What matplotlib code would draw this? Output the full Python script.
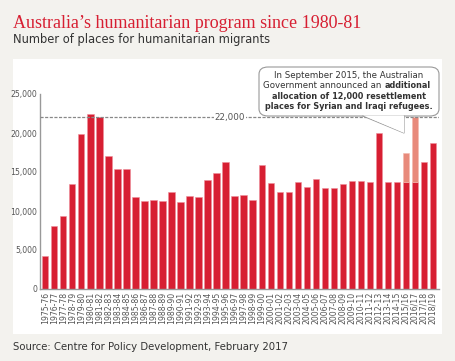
import matplotlib.pyplot as plt
from matplotlib.patches import FancyBboxPatch, Polygon, Rectangle
from matplotlib.lines import Line2D

W, H = 456, 361

years = ['1975-76', '1976-77', '1977-78', '1978-79', '1979-80', '1980-81',
         '1981-82', '1982-83', '1983-84', '1984-85', '1985-86', '1986-87',
         '1987-88', '1988-89', '1989-90', '1990-91', '1991-92', '1992-93',
         '1993-94', '1994-95', '1995-96', '1996-97', '1997-98', '1998-99',
         '1999-00', '2000-01', '2001-02', '2002-03', '2003-04', '2004-05',
         '2005-06', '2006-07', '2007-08', '2008-09', '2009-10', '2010-11',
         '2011-12', '2012-13', '2013-14', '2014-15', '2015/16', '2016/17',
         '2017/18', '2018/19']
places = [4200, 8100, 9300, 13500, 19900, 22500,
          22000, 17050, 15400, 15400, 11800, 11250,
          11400, 11300, 12400, 11150, 11900, 11850,
          14000, 14850, 16250, 11900, 12050, 11350,
          15850, 13650, 12400, 12450, 13750, 13100,
          14150, 13000, 13000, 13450, 13850, 13850,
          13700, 20000, 13750, 13750, 13750, 13750,
          16250, 18750]
# extra Syrian/Iraqi places on top of the regular program
extra_years = ['2015/16', '2016/17']
extra_places = [3750, 8250]
ceiling = 22000

red = '#d71f32'
salmon = '#e88a7b'
grey = '#555555'


def px(x, y):
    return x / W, 1 - y / H


fig = plt.figure(figsize=(W / 100, H / 100), dpi=100, facecolor='#f3f2ee')
fig.patches.append(Rectangle(px(13, 334), (442 - 13) / W, (334 - 59) / H,
                             transform=fig.transFigure, facecolor='white',
                             edgecolor='none', zorder=-5))

fig.text(*px(13, 23), 'Australia\u2019s humanitarian program since 1980-81',
         family='Liberation Serif', fontsize=13, color=red, va='center')
fig.text(*px(13, 40), 'Number of places for humanitarian migrants',
         fontsize=8.3, color='#333333', va='center')
fig.text(*px(13, 347), 'Source: Centre for Policy Development, February 2017',
         fontsize=7.3, color='#333333', va='center')

x0, y0 = px(40, 289)
ax = fig.add_axes([x0, y0, (439 - 40) / W, (289 - 94) / H])
ax.patch.set_alpha(0)

pos = range(len(years))
ax.bar(pos, places, width=0.68, color=red, edgecolor='#ee8f9a', linewidth=0.4,
       zorder=2)
ex_pos = [years.index(y) for y in extra_years]
ax.bar(ex_pos, extra_places, width=0.68,
       bottom=[places[i] for i in ex_pos], color=salmon, edgecolor='#f4b8ae',
       linewidth=0.4, zorder=2)

ax.axhline(ceiling, color='#888888', lw=0.9, ls=(0, (2.5, 1.2)), zorder=3)
ax.text(20.5, ceiling, '22,000', fontsize=6.3, color=grey, ha='center',
        va='center', zorder=4,
        bbox=dict(facecolor='white', edgecolor='none', pad=0.6))

ax.set_xlim(-0.6, 43.7)
ax.set_ylim(0, 25000)
ax.set_yticks([0, 5000, 10000, 15000, 20000, 25000])
ax.set_yticklabels(['0', '5,000', '10,000', '15,000', '20,000', '25,000'])
ax.set_xticks(list(pos))
ax.set_xticklabels(years, rotation=90)
ax.tick_params(length=0, labelsize=5.6, colors=grey, pad=2)
for s in ['top', 'right']:
    ax.spines[s].set_visible(False)
for s in ['left', 'bottom']:
    ax.spines[s].set_color('#999999')
    ax.spines[s].set_linewidth(1)

# callout box
bx0, by0 = px(259, 116)
bx1, by1 = px(439, 67)
fig.patches.append(FancyBboxPatch((bx0, by0), bx1 - bx0, by1 - by0,
                                  boxstyle='round,pad=0,rounding_size=0.02',
                                  transform=fig.transFigure, facecolor='white',
                                  edgecolor='#999999', lw=0.8, zorder=5))
fig.patches.append(Polygon([px(363, 115.5), px(404, 133), px(404, 115.5)],
                           closed=True, transform=fig.transFigure,
                           facecolor='white', edgecolor='none', zorder=6))
fig.lines.append(Line2D(*zip(px(363, 116), px(404, 133), px(404, 116)),
                        transform=fig.transFigure, color='#999999', lw=0.8,
                        zorder=6))

kw = dict(color='#333333', va='center', zorder=7)
fig.text(*px(349, 76), 'In September 2015, the Australian', ha='center',
         fontsize=6.2, **kw)
fig.text(*px(384, 86), 'Government announced an ', ha='right', fontsize=6.2,
         **kw)
fig.text(*px(385, 86), 'additional', ha='left', weight='bold', fontsize=5.9,
         **kw)
fig.text(*px(349, 96), 'allocation of 12,000 resettlement', ha='center',
         weight='bold', fontsize=5.9, **kw)
fig.text(*px(349, 106), 'places for Syrian and Iraqi refugees.', ha='center',
         weight='bold', fontsize=5.9, **kw)

fig.savefig('out.png', dpi=100, facecolor=fig.get_facecolor())
